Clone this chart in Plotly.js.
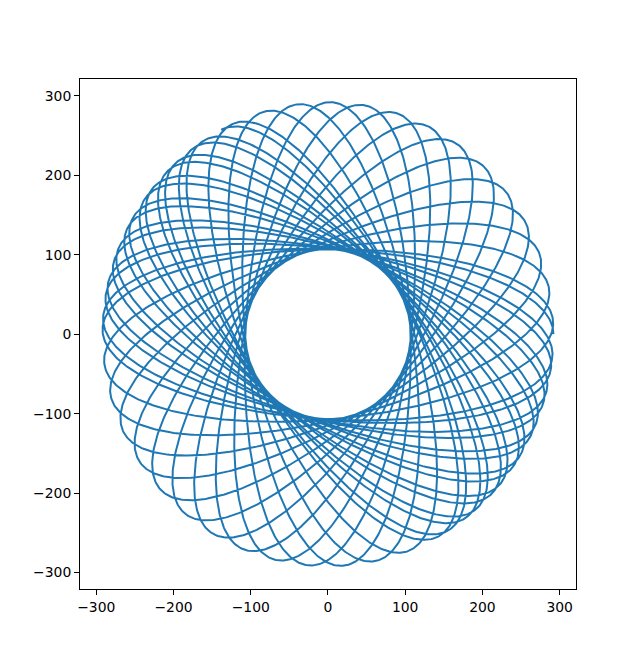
<!DOCTYPE html>
<html><head><script src="https://cdn.plot.ly/plotly-3.0.1.min.js"></script></head>
<body style="margin:0">
<div id="g" style="width:640px;height:662px"></div>
<script>
// Rotating-ellipse spirograph (hypotrochoid), parameters
const outerRadius = 292;        // farthest reach of the curve
const innerRadius = 107;        // radius of the empty central circle
const loopsPerHalfTurn = 20.85; // ellipse traversals per 180° of rotation
const loopCount = 28;           // number of ellipse traversals drawn
const turnDirection = -1;       // clockwise drift of the ellipse
const pointsPerLoop = 400;
const xTicks = [-300,-200,-100,0,100,200,300];
const yTicks = [-300,-200,-100,0,100,200,300];

const xs=[],ys=[];
for(let j=0;j<=loopCount*pointsPerLoop;j++){
  const s=j/pointsPerLoop;
  const th=turnDirection*Math.PI*s/loopsPerHalfTurn, ph=2*Math.PI*s;
  const ex=outerRadius*Math.cos(ph), ey=innerRadius*Math.sin(ph);
  xs.push(ex*Math.cos(th)-ey*Math.sin(th));
  ys.push(ex*Math.sin(th)+ey*Math.cos(th));
}
function pad(arr){const mn=Math.min(...arr),mx=Math.max(...arr),m=(mx-mn)*0.05;return [mn-m,mx+m];}
const ax={showline:true,mirror:true,linecolor:'black',linewidth:1,ticks:'outside',ticklen:5,tickwidth:1,tickcolor:'black',
  showgrid:false,zeroline:false,tickfont:{family:'DejaVu Sans',size:13.9,color:'black'}};
Plotly.newPlot('g',[{x:xs,y:ys,mode:'lines',line:{color:'#1f77b4',width:2},hoverinfo:'skip'}],{
  width:640,height:662,showlegend:false,paper_bgcolor:'white',plot_bgcolor:'white',
  margin:{l:80,r:64,t:79,b:73},
  xaxis:Object.assign({},ax,{range:pad(xs),tickvals:xTicks,ticktext:xTicks.map(v=>v<0?'\u2212'+(-v):String(v))}),
  yaxis:Object.assign({},ax,{range:pad(ys),tickvals:yTicks,ticktext:yTicks.map(v=>v<0?'\u2212'+(-v):String(v))})
},{displayModeBar:false,staticPlot:true});
</script></body></html>
